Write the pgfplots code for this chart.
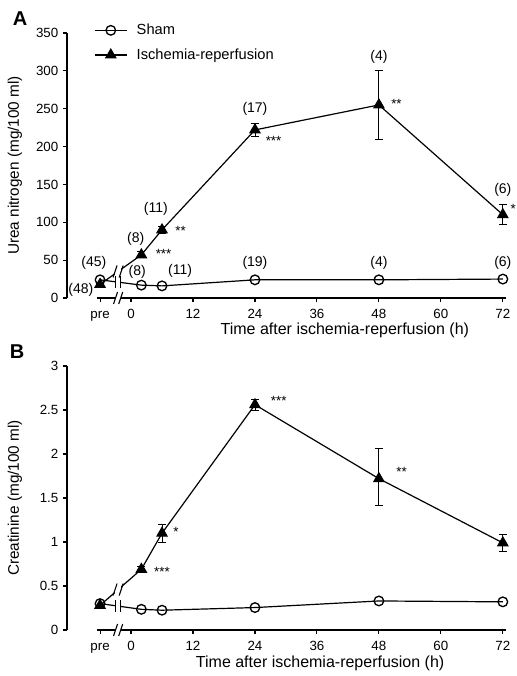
\documentclass[border=0pt]{standalone}
\usepackage{fontspec}
\setmainfont{Liberation Sans}
\usepackage{pgfplots}
\pgfplotsset{compat=1.18}

% line break marks "//" on a series line, and "-||-" on the sham line
\newcommand{\slbreak}[2]{%
  \fill[white] ([xshift=-2.5pt,yshift=-3pt]axis cs:#1,#2) rectangle ([xshift=2.5pt,yshift=3pt]axis cs:#1,#2);
  \draw[line width=0.8pt] ([xshift=-3.8pt,yshift=-4.5pt]axis cs:#1,#2) -- ([xshift=-0.8pt,yshift=4.5pt]axis cs:#1,#2);
  \draw[line width=0.8pt] ([xshift=0.8pt,yshift=-4.5pt]axis cs:#1,#2) -- ([xshift=3.8pt,yshift=4.5pt]axis cs:#1,#2);}
\newcommand{\vbreak}[2]{%
  \fill[white] ([xshift=-2pt,yshift=-3pt]axis cs:#1,#2) rectangle ([xshift=2pt,yshift=3pt]axis cs:#1,#2);
  \draw[line width=0.8pt] ([xshift=-2pt,yshift=-4.5pt]axis cs:#1,#2) -- ([xshift=-2pt,yshift=4.5pt]axis cs:#1,#2);
  \draw[line width=0.8pt] ([xshift=2pt,yshift=-4.5pt]axis cs:#1,#2) -- ([xshift=2pt,yshift=4.5pt]axis cs:#1,#2);}
% broken time axis
\newcommand{\timeaxis}{%
  \draw[line width=0.9pt] (axis cs:-6.6,0) -- (axis cs:-3.0,0);
  \draw[line width=0.9pt] (axis cs:-2.0,0) -- (axis cs:72.6,0);
  \draw[line width=0.8pt] ([xshift=-1.5pt,yshift=-4.5pt]axis cs:-3.0,0) -- ([xshift=1.5pt,yshift=4.5pt]axis cs:-3.0,0);
  \draw[line width=0.8pt] ([xshift=-1.5pt,yshift=-4.5pt]axis cs:-2.0,0) -- ([xshift=1.5pt,yshift=4.5pt]axis cs:-2.0,0);}

\tikzset{
  ann/.style={font=\fontsize{10.5}{12}\selectfont},
  star/.style={font=\fontsize{10}{12}\selectfont},
}
\pgfplotsset{
  panel/.style={
    scale only axis, width=330.75pt, height=198.75pt,
    xmin=-12.4, xmax=73,
    axis lines=left, axis line style={-, line width=0.9pt},
    x axis line style={draw=none},
    xtick={-6,0,12,24,36,48,60,72},
    xticklabels={pre,0,12,24,36,48,60,72},
    tick style={black, line width=0.8pt}, major tick length=3pt,
    tick align=outside,
    tick label style={font=\fontsize{10}{12}\selectfont},
    xticklabel style={text height=1.5ex, text depth=0.25ex, yshift=-1pt},
    label style={font=\fontsize{11.5}{13}\selectfont},
    xlabel style={font=\fontsize{12}{14}\selectfont},
    /pgf/number format/assume math mode=true,
    xlabel={Time after ischemia-reperfusion (h)},
    clip=false,
  },
  sham/.style={black, line width=0.9pt, mark=o, mark size=3.6pt,
    mark options={fill=white, line width=1pt}},
  ir/.style={black, line width=0.9pt, mark=triangle*, mark size=4.3pt,
    error bars/.cd, y dir=both, y explicit,
    error bar style={line width=0.7pt},
    error mark options={rotate=90, mark size=3pt, line width=0.7pt}},
}

\begin{document}
\begin{tikzpicture}
\useasboundingbox (-50.25pt,-283.5pt) rectangle (337.5pt,223.5pt);

% ---- A: urea nitrogen
\begin{axis}[panel,
    ymin=0, ymax=350, ytick={0,50,...,350},
    ylabel={Urea nitrogen (mg/100 ml)},
    ylabel style={at={(axis description cs:-0.118,0.5)}, anchor=center},
    xlabel style={at={(axis description cs:0.63,-0.124)}, anchor=center},
    legend style={at={(0.052,1.055)}, anchor=north west, draw=none, fill=none,
      font=\fontsize{11}{13}\selectfont, row sep=5pt, legend cell align=left,
      /tikz/every odd column/.append style={column sep=5pt}},
    legend image code/.code={\draw[mark repeat=2,mark phase=2,#1]
      plot coordinates {(0pt,0pt) (12pt,0pt) (24pt,0pt)};},
  ]
\addplot[sham] coordinates {(-6,24) (2,17) (6,16) (24,24) (48,24) (72,25)};
\addlegendentry{Sham}
\addplot[ir] coordinates {
  (-6,18) +- (0,0)
  (2,57) +- (0,4)
  (6,90) +- (0,5)
  (24,222) +- (0,8)
  (48,255) += (0,46) -= (0,45)
  (72,110) +- (0,13)
};
\addlegendentry{Ischemia-reperfusion}
\timeaxis
\slbreak{-2.5}{35}
\vbreak{-2.5}{20.9}
\node[ann] at (axis cs:-7.2,46) {(45)};
\node[ann] at (axis cs:-9.7,11) {(48)};
\node[ann] at (axis cs:0.9,78) {(8)};
\node[ann] at (axis cs:4.8,118) {(11)};
\node[ann] at (axis cs:24,250) {(17)};
\node[ann] at (axis cs:48,318) {(4)};
\node[ann] at (axis cs:72,143) {(6)};
\node[ann] at (axis cs:1.2,35) {(8)};
\node[ann] at (axis cs:9.5,36) {(11)};
\node[ann] at (axis cs:24,46) {(19)};
\node[ann] at (axis cs:48,46) {(4)};
\node[ann] at (axis cs:72,46) {(6)};
\node[star] at (axis cs:6.3,58) {***};
\node[star] at (axis cs:9.6,88) {**};
\node[star] at (axis cs:27.6,207) {***};
\node[star] at (axis cs:51.4,257) {**};
\node[star] at (axis cs:74.0,118) {*};
\end{axis}
\node[font=\bfseries\fontsize{15}{17}\selectfont] at (-35.25pt,209.25pt) {A};

% ---- B: creatinine
\begin{axis}[panel, at={(0pt,-249pt)}, height=198pt,
    ymin=0, ymax=3, ytick={0,0.5,...,3},
    ylabel={Creatinine (mg/100 ml)},
    ylabel style={at={(axis description cs:-0.118,0.5)}, anchor=center},
    xlabel style={at={(axis description cs:0.574,-0.128)}, anchor=center},
  ]
\addplot[sham] coordinates {(-6,0.30) (2,0.235) (6,0.225) (24,0.255) (48,0.33) (72,0.32)};
\addplot[ir] coordinates {
  (-6,0.28) +- (0,0)
  (2,0.69) +- (0,0.03)
  (6,1.10) +- (0,0.10)
  (24,2.56) +- (0,0.06)
  (48,1.72) += (0,0.34) -= (0,0.31)
  (72,0.99) +- (0,0.10)
};
\timeaxis
\slbreak{-2.5}{0.46}
\vbreak{-2.5}{0.27}
\node[star] at (axis cs:6.0,0.66) {***};
\node[star] at (axis cs:8.7,1.12) {*};
\node[star] at (axis cs:28.6,2.60) {***};
\node[star] at (axis cs:52.4,1.80) {**};
\end{axis}
\node[font=\bfseries\fontsize{15}{17}\selectfont] at (-37.5pt,-40.5pt) {B};
\end{tikzpicture}
\end{document}
